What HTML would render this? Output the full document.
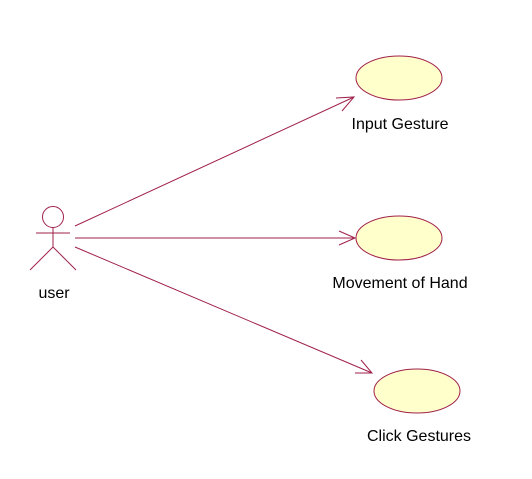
<!DOCTYPE html>
<html><head><meta charset="utf-8"><style>
html,body{margin:0;padding:0;background:#fff;}
svg{display:block;}
text{font-family:"Liberation Sans",Arial,sans-serif;font-size:16px;fill:#000;}
</style></head><body>
<svg width="532" height="479" viewBox="0 0 532 479" xmlns="http://www.w3.org/2000/svg">
<g stroke="#a0204a" stroke-width="1" fill="none">
<circle cx="53" cy="217" r="10.5"/>
<line x1="36" y1="233" x2="70" y2="233"/>
<line x1="53" y1="228" x2="53" y2="247"/>
<line x1="53" y1="247" x2="30" y2="270"/>
<line x1="53" y1="247" x2="76" y2="270"/>
<line x1="75" y1="226" x2="354" y2="97"/>
<polyline points="336,98 354,97 342,111"/>
<line x1="75" y1="238" x2="355" y2="238"/>
<polyline points="339,231 355,238 339,245"/>
<line x1="75" y1="247" x2="372" y2="373"/>
<polyline points="361,360 372,373 355,373"/>
</g>
<g fill="#ffffcc" stroke="#a0204a" stroke-width="1">
<ellipse cx="399" cy="78" rx="43" ry="22"/>
<ellipse cx="399" cy="238" rx="43" ry="22"/>
<ellipse cx="417" cy="391" rx="43" ry="22"/>
</g>
<text x="54" y="298" text-anchor="middle">user</text>
<text x="400" y="129" text-anchor="middle">Input Gesture</text>
<text x="400" y="288" text-anchor="middle">Movement of Hand</text>
<text x="419" y="441" text-anchor="middle">Click Gestures</text>
</svg>
</body></html>
